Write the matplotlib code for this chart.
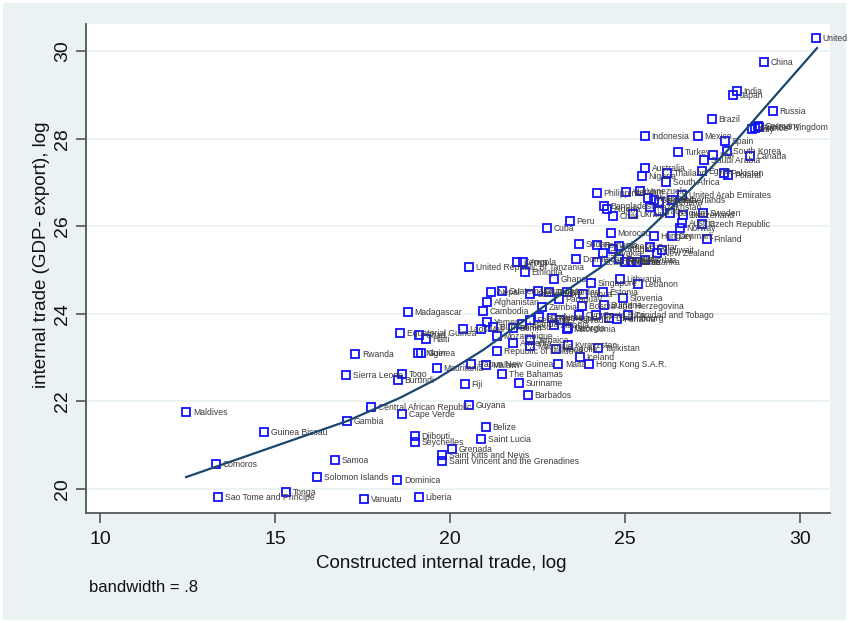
import matplotlib
matplotlib.use("Agg")
import matplotlib.pyplot as plt
from matplotlib.patches import Rectangle

plt.rcParams['font.family'] = ['Liberation Sans', 'DejaVu Sans']

# ========== data ==========
countries = [
    "United", "China", "India", "Japan", "Russia", "Brazil", "Germany", "France",
    "United Kingdom", "Italy", "Indonesia", "Mexico", "Spain", "Turkey", "Iran",
    "South Korea", "Canada", "Saudi Arabia", "Australia", "Nigeria", "Thailand",
    "Egypt", "Pakistan", "Poland", "South Africa", "Philippines", "Vietnam",
    "Venezuela", "Malaysia", "Colombia", "Argentina", "Netherlands",
    "United Arab Emirates", "Bangladesh", "Algeria", "Chile", "Ukraine",
    "Kazakhstan", "Iraq", "Belgium", "Switzerland", "Sweden", "Austria",
    "Czech Republic", "Norway", "Denmark", "Hungary", "Finland", "Peru", "Cuba",
    "Morocco", "Sudan", "Romania", "Greece", "Portugal", "Slovakia", "Qatar",
    "New Zealand", "Kuwait", "Dominican Republic", "Ecuador", "Croatia",
    "Belarus", "Oman", "Sri Lanka", "Serbia", "Kenya", "Angola",
    "United Republic of Tanzania", "Ethiopia", "Ghana", "Singapore", "Lithuania",
    "Lebanon", "Nepal", "Guatemala", "Cameroon", "Uruguay", "Tunisia", "Jordan",
    "Paraguay", "Latvia", "Estonia", "Slovenia", "Afghanistan", "Cambodia",
    "Zambia", "Bosnia and Herzegovina", "Bulgaria", "Trinidad and Tobago",
    "Luxembourg", "Panama", "Costa Rica", "Cyprus", "Macedonia", "Laos", "Mali",
    "Burkina Faso", "Mozambique", "Uganda", "Benin", "Senegal", "Honduras",
    "Nicaragua", "El Salvador", "Albania", "Georgia", "Armenia", "Jamaica",
    "Mauritius", "Mongolia", "Kyrgyzstan", "Tajikistan", "Iceland",
    "Republic of Moldova", "Papua New Guinea", "Malawi", "Malta",
    "Hong Kong S.A.R.", "The Bahamas", "Fiji", "Suriname", "Barbados", "Guyana",
    "Belize", "Central African Republic", "Cape Verde", "Gambia", "Saint Lucia",
    "Djibouti", "Seychelles", "Grenada", "Saint Kitts and Nevis",
    "Saint Vincent and the Grenadines", "Samoa", "Solomon Islands", "Dominica",
    "Vanuatu", "Liberia", "Guinea Bissau", "Comoros", "Tonga",
    "Sao Tome and Principe", "Maldives", "Madagascar", "Equatorial Guinea",
    "Chad", "Haiti", "Niger", "Guinea", "Rwanda", "Sierra Leone", "Togo",
    "Burundi", "Mauritania", "Yemen",
]

constructed = [
    30.46, 28.97, 28.20, 28.09, 29.23, 27.49, 28.80, 28.71,
    28.83, 28.63, 25.57, 27.09, 27.86, 26.51, 27.51,
    27.91, 28.57, 27.26, 25.57, 25.49, 26.20,
    27.20, 27.83, 27.94, 26.17, 24.20, 25.03,
    25.43, 25.66, 25.83, 25.97, 26.34,
    26.63, 24.40, 24.49, 24.66, 25.23,
    25.71, 25.97, 26.29, 26.66, 27.23, 26.63,
    27.20, 26.57, 26.34, 25.83, 27.34, 23.43, 22.77,
    24.60, 23.69, 24.20, 24.83, 24.66, 24.37, 25.71,
    25.91, 26.06, 23.60, 24.20, 24.83,
    25.00, 25.17, 25.34, 25.57, 21.91, 22.09,
    20.54, 22.14, 22.97, 24.03, 24.86,
    25.37, 21.17, 21.49, 22.29, 22.51, 22.83, 23.34,
    23.11, 23.80, 24.37, 24.94, 21.06, 20.94,
    22.63, 23.77, 24.40, 25.09,
    24.54, 24.77, 24.17, 23.69, 23.34, 20.37, 20.89,
    21.23, 21.34, 22.06, 21.80, 22.29, 22.54,
    22.91, 23.14, 22.97, 23.37, 21.80, 22.29,
    22.29, 23.03, 23.37, 24.23, 23.71,
    21.34, 20.60, 21.03, 23.09,
    23.97, 21.49, 20.43, 21.97, 22.23, 20.54,
    21.03, 17.74, 18.63, 17.06, 20.89,
    19.00, 19.00, 20.06, 19.77,
    19.77, 16.71, 16.20, 18.49,
    17.54, 19.11, 14.69, 13.31, 15.31,
    13.37, 12.46, 18.80, 18.57,
    19.11, 19.31, 19.09, 19.17, 17.29, 17.03, 18.63,
    18.51, 19.63, 21.06,
]

internal = [
    30.30, 29.75, 29.09, 29.00, 28.63, 28.45, 28.29, 28.24,
    28.26, 28.22, 28.06, 28.06, 27.95, 27.69, 27.63,
    27.72, 27.60, 27.51, 27.33, 27.15, 27.21,
    27.26, 27.21, 27.17, 27.01, 26.76, 26.78,
    26.80, 26.64, 26.60, 26.55, 26.60,
    26.71, 26.46, 26.39, 26.23, 26.28,
    26.44, 26.35, 26.30, 26.26, 26.30, 26.07,
    26.05, 25.96, 25.78, 25.78, 25.71, 26.12, 25.96,
    25.84, 25.59, 25.57, 25.55, 25.48, 25.39, 25.53,
    25.39, 25.46, 25.25, 25.18, 25.25,
    25.18, 25.18, 25.18, 25.23, 25.18, 25.18,
    25.07, 24.95, 24.79, 24.70, 24.79,
    24.68, 24.50, 24.52, 24.45, 24.52, 24.50, 24.50,
    24.34, 24.45, 24.50, 24.36, 24.27, 24.06,
    24.16, 24.18, 24.20, 23.97,
    23.90, 23.88, 23.97, 23.97, 23.65, 23.65, 23.65,
    23.70, 23.49, 23.77, 23.68, 23.86, 23.93,
    23.90, 23.86, 23.74, 23.68, 23.33, 23.40,
    23.26, 23.20, 23.29, 23.22, 23.01,
    23.15, 22.85, 22.83, 22.85,
    22.85, 22.63, 22.40, 22.42, 22.15, 21.92,
    21.42, 21.87, 21.71, 21.55, 21.14,
    21.21, 21.07, 20.91, 20.78,
    20.64, 20.66, 20.27, 20.21,
    19.77, 19.82, 21.30, 20.57, 19.93,
    19.82, 21.76, 24.04, 23.56,
    23.52, 23.42, 23.11, 23.11, 23.08, 22.60, 22.63,
    22.49, 22.76, 23.81,
]

# lowess curve (bandwidth .8)
lowess_x = [12.46, 14.69, 17.06, 18.57, 19.57, 20.94, 23.14, 24.29, 25.51,
            26.86, 27.94, 29.14, 30.49]
lowess_y = [20.27, 20.89, 21.55, 22.08, 22.49, 23.17, 24.43, 25.05, 25.80,
            26.83, 27.74, 28.84, 30.07]

x_ticks = [10, 15, 20, 25, 30]
y_ticks = [20, 22, 24, 26, 28, 30]

# ========== figure ==========
BG = "#eaf2f3"
fig = plt.figure(figsize=(8.49, 6.23), dpi=100)
fig.patch.set_facecolor("white")
fig.patches.append(Rectangle((3 / 849, 3 / 623), 843 / 849, 617 / 623,
                             transform=fig.transFigure, facecolor=BG,
                             edgecolor="none", zorder=-10))

ax = fig.add_axes([86 / 849, 1 - 513 / 623, 744 / 849, 489 / 623])
ax.set_zorder(1)
ax.set_facecolor("white")
ax.set_xlim(9.6, 30.86)
ax.set_ylim(19.45, 30.62)

for yt in y_ticks:
    ax.axhline(yt, color=BG, lw=1.3, zorder=0)

ax.plot(constructed, internal, ls="none", marker="s", ms=5.6, mew=1.3,
        mec="#1010ff", mfc="none", zorder=3)
for name, xv, yv in zip(countries, constructed, internal):
    ax.annotate(name, (xv, yv), xytext=(4.8, -0.3), textcoords="offset points",
                fontsize=6.2, va="center", ha="left", color="#3a3a3a",
                annotation_clip=False, zorder=4)

ax.plot(lowess_x, lowess_y, color="#1a476f", lw=1.6, zorder=5)

for s in ["top", "right"]:
    ax.spines[s].set_visible(False)
for s in ["left", "bottom"]:
    ax.spines[s].set_color("#555555")
    ax.spines[s].set_linewidth(1.3)

ax.set_xticks(x_ticks)
ax.set_yticks(y_ticks)
ax.tick_params(axis="both", length=7, width=1.2, color="#555555",
               labelsize=14, labelcolor="#111111")
ax.tick_params(axis="x", pad=6)
ax.tick_params(axis="y", pad=4)
for lab in ax.get_yticklabels():
    lab.set_rotation(90)
    lab.set_va("center")

ax.set_xlabel("Constructed internal trade, log", fontsize=13.5, color="#111111")
ax.xaxis.set_label_coords(0.477, -0.085)
ax.set_ylabel("internal trade (GDP- export), log", fontsize=13.5,
              color="#111111")
ax.yaxis.set_label_coords(-0.048, 0.528)

fig.text(89 / 849, 1 - 587 / 623, "bandwidth = .8", fontsize=12,
         color="#111111", va="center", ha="left", zorder=2)

fig.savefig("out.png", dpi=100, facecolor=fig.get_facecolor())
